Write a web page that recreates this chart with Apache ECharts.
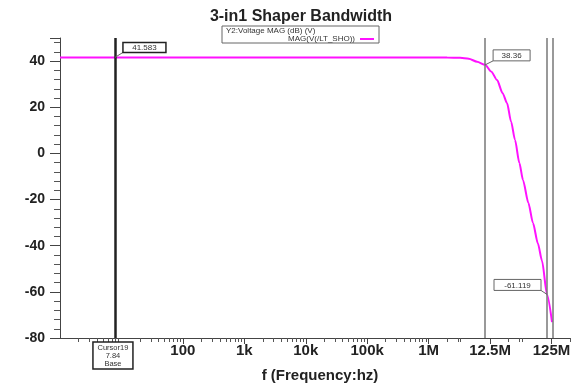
<!DOCTYPE html>
<html>
<head>
<meta charset="utf-8">
<script src="https://cdn.jsdelivr.net/npm/echarts@6/dist/echarts.min.js"></script>
<style>html,body{margin:0;padding:0;background:#fff}#c{width:584px;height:383px}</style>
</head>
<body>
<div id="c"></div>
<script>
// ---- data ----
var freqHz = [1, 7.84, 100, 1e3, 1e4, 1e5, 1e6, 2e6, 3.25e6, 4.5e6, 6.15e6, 8.3e6, 10.5e6, 13e6, 16e6, 18.9e6, 22e6, 25.5e6, 30e6, 34.4e6, 42e6, 50e6, 60e6, 70e6, 84.5e6, 102e6];
var magDb  = [41.583, 41.583, 41.583, 41.583, 41.583, 41.58, 41.55, 41.5, 41.4, 41.0, 39.7, 38.36, 35.4, 31.8, 26.1, 21.8, 13.7, 5.8, -4.2, -11.6, -21.4, -30.2, -39.0, -46.5, -61.119, -73.1];
var xTickValues = [100, 1e3, 1e4, 1e5, 1e6, 1e7, 1e8];
var xTickLabels = ['100', '1k', '10k', '100k', '1M', '12.5M', '125M'];
var xMinorTicks = [2,3,4,5,6,7,8,9, 20,30,40,50,60,70,80,90, 200,300,400,500,600,700,800,900,
  2e3,3e3,4e3,5e3,6e3,7e3,8e3,9e3, 2e4,3e4,4e4,5e4,6e4,7e4,8e4,9e4, 2e5,3e5,4e5,5e5,6e5,7e5,8e5,9e5,
  2e6,3e6,3.3e6, 2e7,3e7,3.4e7, 2e8];
var yTicks = [-80, -60, -40, -20, 0, 20, 40];
var baseCursor = {f: 7.84, v: 41.583, label: '41.583', name: 'Cursor19', base: 'Base'};
var cursorA = {f: 8.3e6, v: 38.36, label: '38.36'};
var cursorB = {f: 84.5e6, v: -61.119, label: '-61.119'};
var cursorC = {f: 104e6};
var legendLines = ['Y2:Voltage MAG (dB) (V)', 'MAG(V(/LT_SHO))'];
var titleText = '3-in1 Shaper Bandwidth';
var xName = 'f (Frequency:hz)';

var chart = echarts.init(document.getElementById('c'), null, {renderer: 'canvas'});
var FONT = '"Liberation Sans", Arial, sans-serif';
var pts = freqHz.map(function (f, i) { return [f, magDb[i]]; });

chart.setOption({
  animation: false,
  backgroundColor: '#ffffff',
  title: {
    text: titleText, left: 296, top: 4, textAlign: 'center',
    textStyle: {fontFamily: FONT, fontWeight: 'bold', fontSize: 16, color: '#222'}
  },
  grid: {left: 60, right: 14, top: 38, bottom: 45, containLabel: false, outerBoundsMode: 'none'},
  xAxis: [{
    type: 'log', min: 1, max: 2e8, logBase: 10,
    name: xName, nameLocation: 'middle', nameGap: 30,
    nameTextStyle: {fontFamily: FONT, fontWeight: 'bold', fontSize: 15, color: '#222', padding: [0, 0, 0, 10]},
    axisLine: {show: true, onZero: false, lineStyle: {color: '#444', width: 1}},
    axisTick: {show: true, inside: false, length: 6, customValues: xTickValues, lineStyle: {color: '#444'}},
    axisLabel: {
      customValues: xTickValues, margin: 5,
      fontFamily: FONT, fontWeight: 'bold', fontSize: 15, color: '#222',
      formatter: function (v) {
        for (var i = 0; i < xTickValues.length; i++) {
          if (Math.abs(Math.log10(v) - Math.log10(xTickValues[i])) < 1e-6) return xTickLabels[i];
        }
        return '';
      }
    },
    splitLine: {show: false}
  }, {
    type: 'log', min: 1, max: 2e8, logBase: 10, position: 'bottom', gridIndex: 0,
    axisLine: {show: false, onZero: false},
    axisTick: {show: true, inside: false, length: 4, customValues: xMinorTicks, lineStyle: {color: '#555'}},
    axisLabel: {show: false},
    splitLine: {show: false}
  }],
  yAxis: {
    type: 'value', min: -80, max: 50, interval: 20,
    axisLine: {show: true, onZero: false, lineStyle: {color: '#444', width: 1}},
    axisTick: {show: true, inside: false, length: 10, lineStyle: {color: '#444'}},
    minorTick: {show: true, splitNumber: 5, length: 6, lineStyle: {color: '#555'}},
    axisLabel: {
      margin: 15, fontFamily: FONT, fontWeight: 'bold', fontSize: 14, color: '#222',
      formatter: function (v) { return yTicks.indexOf(v) >= 0 ? String(v) : ''; }
    },
    splitLine: {show: false}
  },
  series: [{
    type: 'line', data: pts, xAxisIndex: 0, showSymbol: false, smooth: 0.25, smoothMonotone: 'x',
    lineStyle: {color: '#ff11ff', width: 2},
    clip: false,
    markLine: {
      silent: true, symbol: 'none', label: {show: false}, animation: false,
      data: [
        [{coord: [baseCursor.f, -80], lineStyle: {color: '#222', width: 2.5, type: 'solid'}}, {coord: [baseCursor.f, 50]}],
        [{coord: [cursorA.f, -80], lineStyle: {color: '#777', width: 1.5, type: 'solid'}}, {coord: [cursorA.f, 50]}],
        [{coord: [cursorB.f, -80], lineStyle: {color: '#777', width: 1.5, type: 'solid'}}, {coord: [cursorB.f, 50]}],
        [{coord: [cursorC.f, -80], lineStyle: {color: '#777', width: 1.5, type: 'solid'}}, {coord: [cursorC.f, 50]}]
      ]
    }
  }]
});

function px(f, v) { return chart.convertToPixel({xAxisIndex: 0, yAxisIndex: 0}, [f, v]); }

var g = [];
function valueBox(cur, dx, dy, w, h, border, bw) {
  var p = px(cur.f, cur.v);
  var x0 = p[0] + dx, y0 = p[1] + dy;
  g.push({type: 'line', shape: {x1: p[0], y1: p[1], x2: x0 + (dx < 0 ? w : 0), y2: y0 + h}, style: {stroke: '#666', lineWidth: 1}, z: 10});
  g.push({type: 'rect', shape: {x: x0, y: y0, width: w, height: h},
    style: {fill: '#fff', stroke: border, lineWidth: bw}, z: 11});
  g.push({type: 'text', x: x0 + w / 2, y: y0 + h / 2 + 0.5, z: 12,
    style: {text: cur.label, font: '8px ' + FONT, fill: '#333', align: 'center', verticalAlign: 'middle'}});
}
valueBox(baseCursor, 8, -15, 43, 10, '#222', 1.5);
valueBox(cursorA, 8, -15, 37, 11, '#666', 1);
valueBox(cursorB, -53, -15, 47, 11, '#666', 1);

// cursor name box under the base cursor
var bp = px(baseCursor.f, -80);
g.push({type: 'rect', shape: {x: bp[0] - 22, y: bp[1] + 4, width: 40, height: 27},
  style: {fill: '#fff', stroke: '#222', lineWidth: 1.5}, z: 11});
g.push({type: 'text', x: bp[0] - 2, y: bp[1] + 10, z: 12,
  style: {text: baseCursor.name, font: '7.5px ' + FONT, fill: '#333', align: 'center', verticalAlign: 'middle'}});
g.push({type: 'text', x: bp[0] - 2, y: bp[1] + 18, z: 12,
  style: {text: String(baseCursor.f), font: '7.5px ' + FONT, fill: '#333', align: 'center', verticalAlign: 'middle'}});
g.push({type: 'text', x: bp[0] - 2, y: bp[1] + 26, z: 12,
  style: {text: baseCursor.base, font: '7.5px ' + FONT, fill: '#333', align: 'center', verticalAlign: 'middle'}});

// legend box
g.push({type: 'rect', shape: {x: 222, y: 26, width: 157, height: 17},
  style: {fill: '#fff', stroke: '#666', lineWidth: 1}, z: 11});
g.push({type: 'text', x: 226, y: 31, z: 12,
  style: {text: legendLines[0], font: '8px ' + FONT, fill: '#333', align: 'left', verticalAlign: 'middle'}});
g.push({type: 'text', x: 355, y: 39, z: 12,
  style: {text: legendLines[1], font: '8px ' + FONT, fill: '#333', align: 'right', verticalAlign: 'middle'}});
g.push({type: 'line', shape: {x1: 360, y1: 39, x2: 374, y2: 39}, style: {stroke: '#ff11ff', lineWidth: 2}, z: 12});

chart.setOption({graphic: {elements: g}});
</script>
</body>
</html>
